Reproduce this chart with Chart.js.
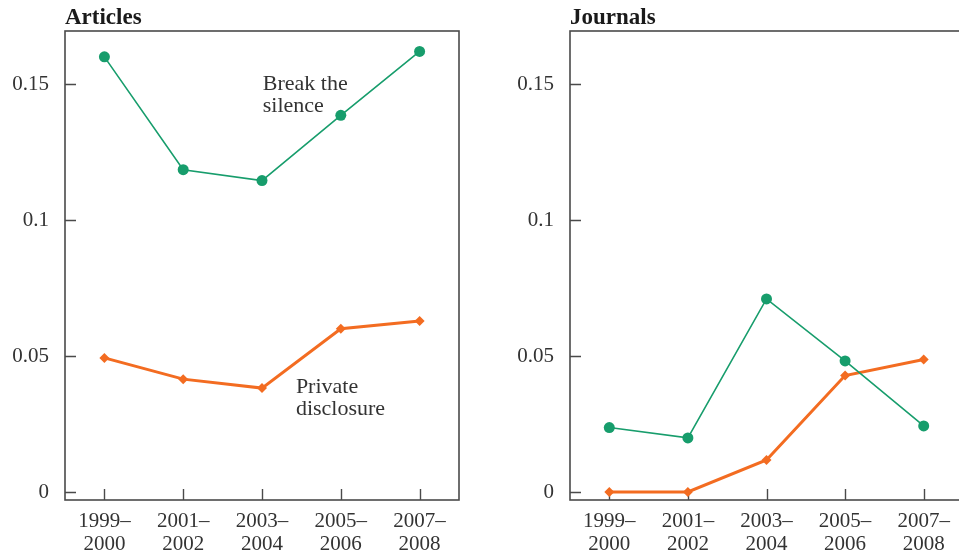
<!DOCTYPE html>
<html><head><meta charset="utf-8">
<script src="https://cdn.jsdelivr.net/npm/chart.js@4/dist/chart.umd.min.js"></script>
<style>
html,body{margin:0;padding:0;background:#fff;overflow:hidden;width:959px;height:557px;position:relative}
canvas{position:absolute;top:0}
</style></head><body>
<canvas id="c1" width="480" height="557" style="left:0"></canvas>
<canvas id="c2" width="490" height="557" style="left:480px"></canvas>
<script>
const categories = [['1999–','2000'],['2001–','2002'],['2003–','2004'],['2005–','2006'],['2007–','2008']];
const articlesBreak = [0.160, 0.1185, 0.1145, 0.1385, 0.162];
const articlesPrivate = [0.0493, 0.0415, 0.0382, 0.0600, 0.0629];
const journalsBreak = [0.0237, 0.0199, 0.0710, 0.0482, 0.0243];
const journalsPrivate = [0, 0, 0.0118, 0.0428, 0.0487];
const yTickValues = [0, 0.05, 0.1, 0.15];
const yTickLabels = ['0', '0.05', '0.1', '0.15'];
const seriesNames = ['Break the silence', 'Private disclosure'];
const panelTitles = ['Articles', 'Journals'];
const noteBreak = ['Break the', 'silence'];
const notePrivate = ['Private', 'disclosure'];

const GREEN = '#179d6c';
const ORANGE = '#f36c21';
const FONT = '"Liberation Serif", "Times New Roman", serif';
const TXT = '#333333';

const panelPlugin = {
  id: 'panel',
  beforeDatasetsDraw(chart, args, opts) {
    const {ctx, chartArea: a, scales: {x, y}} = chart;
    ctx.save();
    ctx.strokeStyle = '#4a4a4a';
    ctx.lineWidth = 1.6;
    ctx.strokeRect(a.left, a.top, a.right - a.left, a.bottom - a.top);
    ctx.lineWidth = 1.4;
    ctx.beginPath();
    yTickValues.forEach(v => {
      const py = Math.round(y.getPixelForValue(v)) + 0.5;
      ctx.moveTo(a.left, py); ctx.lineTo(a.left + 11, py);
    });
    categories.forEach((c, i) => {
      const px = Math.round(x.getPixelForValue(i)) + 0.5;
      ctx.moveTo(px, a.bottom); ctx.lineTo(px, a.bottom - 11);
    });
    ctx.stroke();
    ctx.fillStyle = '#1a1a1a';
    ctx.font = 'bold 23px ' + FONT;
    ctx.textAlign = 'left';
    ctx.textBaseline = 'alphabetic';
    ctx.fillText(opts.title, a.left, a.top - 7);
    ctx.font = '22px ' + FONT;
    ctx.fillStyle = TXT;
    (opts.notes || []).forEach(n => {
      const px = x.getPixelForValue(n.x);
      const py = y.getPixelForValue(n.y);
      n.lines.forEach((l, k) => ctx.fillText(l, px, py + k * 22));
    });
    ctx.restore();
  }
};

function makeChart(id, title, breakData, privData, padRight, yWidth, notes) {
  return new Chart(document.getElementById(id), {
    type: 'line',
    data: {
      labels: categories,
      datasets: [
        {label: seriesNames[0], data: breakData, borderColor: GREEN, backgroundColor: GREEN,
         borderWidth: 1.6, pointStyle: 'circle', pointRadius: 5.5, pointBorderWidth: 0,
         pointBackgroundColor: GREEN, tension: 0, clip: false},
        {label: seriesNames[1], data: privData, borderColor: ORANGE, backgroundColor: ORANGE,
         borderWidth: 3, pointStyle: 'rectRot', pointRadius: 5, pointBorderWidth: 0,
         pointBackgroundColor: ORANGE, tension: 0, clip: false}
      ]
    },
    options: {
      responsive: false, animation: false, devicePixelRatio: 1,
      layout: {padding: {top: 31, right: padRight, bottom: 0, left: 0}},
      plugins: {legend: {display: false}, tooltip: {enabled: false}, title: {display: false},
        panel: {title: title, notes: notes}},
      scales: {
        x: {
          type: 'category', offset: true,
          grid: {display: false, drawTicks: false}, border: {display: false},
          ticks: {autoSkip: false, maxRotation: 0, minRotation: 0, padding: 10, color: TXT,
                  font: {family: FONT, size: 21, lineHeight: 1.1}},
          afterFit: s => { s.height = 57; }
        },
        y: {
          min: -0.00294, max: 0.1695,
          grid: {display: false, drawTicks: false}, border: {display: false},
          afterBuildTicks: s => { s.ticks = yTickValues.map(v => ({value: v})); },
          ticks: {padding: 16, color: TXT, font: {family: FONT, size: 21},
                  callback: (v) => yTickLabels[yTickValues.indexOf(v)]},
          afterFit: s => { s.width = yWidth; }
        }
      }
    },
    plugins: [panelPlugin]
  });
}

makeChart('c1', panelTitles[0], articlesBreak, articlesPrivate, 21, 65, [
  {lines: noteBreak, x: 2.01, y: 0.1478},
  {lines: notePrivate, x: 2.43, y: 0.0364}
]);
makeChart('c2', panelTitles[1], journalsBreak, journalsPrivate, 7, 90, []);
</script>
</body></html>
